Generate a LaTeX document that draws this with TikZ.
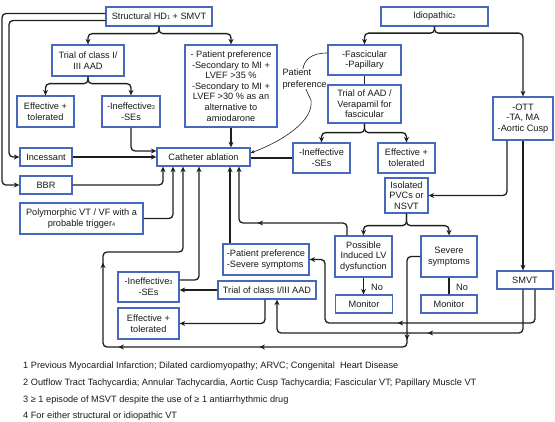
\documentclass[tikz,border=0pt]{standalone}
\usepackage{fontspec}
\setmainfont{Liberation Sans}
\usetikzlibrary{arrows.meta,decorations.markings}
\definecolor{boxblue}{RGB}{70,105,190}
\definecolor{linec}{RGB}{30,30,30}
\newcommand\sm[1]{{\fontsize{5.5}{6}\selectfont #1}}
\newcommand\mybox[6]{\node[box,minimum width=#4pt,minimum height=#5pt] (#1) at (#2,#3) {#6};}
\begin{document}
\begin{tikzpicture}[x=1pt,y=-1pt,
  >={Stealth[length=5.5pt,width=5pt]},
  every node/.style={font=\fontsize{9.2}{10.6}\selectfont, text=black!90},
  box/.style={draw=boxblue,line width=1.3pt,fill=white,align=center,inner sep=1pt},
  conn/.style={draw=linec,line width=1.3pt,rounded corners=4pt},
  arr/.style={conn,->},
  mk/.style={postaction={decorate,decoration={markings,mark=at position #1 with {\arrow{>}}}}},
  fn/.style={anchor=west,inner sep=0pt}
]
\useasboundingbox (0,0) rectangle (555,422);

% boxes
\mybox{sh}{159}{16.5}{106}{19}{Structural HD\sm{1} + SMVT}
\mybox{id}{434.5}{16.5}{107}{19}{Idiopathic\sm{2}}
\mybox{tra}{88}{60.5}{72}{31}{Trial of class I/\\III AAD}
\mybox{ppa}{231}{86}{92}{82}{- Patient preference\\-Secondary to MI +\\LVEF >35 \%\\-Secondary to MI +\\LVEF >30 \% as an\\alternative to\\amiodarone}
\mybox{efa}{45.5}{111.5}{57}{31}{Effective +\\tolerated}
\mybox{ina}{131}{111.5}{58}{31}{-Ineffective\sm{3}\\-SEs}
\mybox{fa}{364.5}{60}{73}{30}{-Fascicular\\-Papillary}
\mybox{tv}{364.5}{104}{73}{38}{Trial of AAD /\\Verapamil for\\fascicular}
\mybox{ott}{523}{118.5}{60}{43}{-OTT\\-TA, MA\\-Aortic Cusp}
\mybox{inc}{46}{157}{52}{18}{Incessant}
\mybox{bbr}{46}{185}{52}{18}{BBR}
\mybox{cat}{203.5}{157}{93}{18}{Catheter ablation}
\mybox{inb}{321.5}{158}{57}{30}{-Ineffective\\-SEs}
\mybox{efb}{406.5}{158}{57}{30}{Effective +\\tolerated}
\mybox{pvc}{406.5}{195.5}{43}{35}{Isolated\\PVCs or\\NSVT}
\mybox{poly}{81.5}{218.5}{123}{31}{Polymorphic VT / VF with a\\probable trigger\sm{4}}
\mybox{plv}{363.5}{256.5}{57}{41}{Possible\\Induced LV\\dysfunction}
\mybox{sev}{449}{256.5}{56}{41}{Severe\\symptoms}
\node[box,align=left,minimum width=86pt,minimum height=31pt] (ppb) at (266,259.5) {-Patient preference\\-Severe symptoms};
\mybox{inc3}{148.5}{287}{61}{30}{-Ineffective\sm{3}\\-SEs}
\mybox{tr2}{267}{290}{98}{18}{Trial of class I/III AAD}
\mybox{ef3}{148.5}{323.5}{61}{31}{Effective +\\tolerated}
\mybox{mo1}{364}{304}{57}{18}{Monitor}
\mybox{mo2}{449}{304}{56}{18}{Monitor}
\mybox{smvt}{525}{280}{56}{18}{SMVT}
\node (no1) at (377,287) {No};
\node (no2) at (462,287) {No};

% connectors: structural side
\draw[arr] (sh.south) -- ++(0,7) -| (tra.north);
\draw[arr] (sh.south) -- ++(0,7) -| (ppa.north);
\draw[arr] (sh.west |- 0,13.5) -| (2,185) -- (bbr.west);
\draw[arr] (sh.west |- 0,20.5) -| (9,157) -- (inc.west);
\draw[arr] (tra.south) -- ++(0,7) -| (efa.north);
\draw[arr] (tra.south) -- ++(0,7) -| (ina.north);
\draw[arr] (ina.south) |- (cat.west |- 0,151);
\draw[arr] (inc.east) -- (cat.west);
\draw[arr] (ppa.south) -- (ppa.south |- cat.north);
\draw[arr] (bbr.east) -| (cat.south -| 163,0);
\draw[arr] (poly.east) -| (cat.south -| 173,0);
\draw[arr] (inc3.east |- 0,280) -| (cat.south -| 199,0);
\draw[arr] (ppb.north -| 230,0) -- (cat.south -| 230,0);
\draw[arr, mk=100pt] (plv.north -| 347,0) |- (239,223) -- (cat.south -| 239,0);
\draw[arr, postaction={decorate,decoration={markings,
  mark=at position 95pt with {\arrow{>}},
  mark=at position 248pt with {\arrow{>}},
  mark=at position 389pt with {\arrow{>}},
  mark=at position 487pt with {\arrow{>}}}}]
  (sev.west) -| (407,347) -| (103,252) -| (cat.south -| 183,0);

% idiopathic side
\draw[arr] (id.south) -- ++(0,6.5) -| (fa.north);
\draw[arr] (id.south) -- ++(0,6.5) -| (ott.north);
\draw[conn] (fa.south) -- (tv.north);
\draw[arr] (tv.south) -- ++(0,9) -| (inb.north);
\draw[arr] (tv.south) -- ++(0,9) -| (efb.north);
\draw[conn] (inb.west) -- (inb.west -| cat.east);
\draw[arr] (ott.south -| 507,0) |- (pvc.east);
\draw[arr] (ott.south) -- (ott.south |- smvt.north);
\draw[arr] (pvc.south) -- ++(0,12) -| (plv.north);
\draw[arr] (pvc.south) -- ++(0,12) -| (sev.north);
\draw[arr] (plv.south) -- (plv.south |- mo1.north);
\draw[conn] (sev.south) -- (mo2.north);
\draw[arr, mk=169pt] (smvt.south -| 535,0) |- (325,323) |- (ppb.east);
\draw[arr, mk=137pt] (smvt.south -| 523,0) |- (277,333) -- (tr2.south -| 277,0);
\draw[arr] (tr2.west) -- (tr2.west -| inc3.east);
\draw[arr] (tr2.south -| 265,0) |- (ef3.east);

% patient preference curve
\draw[linec, line width=0.6pt, -{Stealth[length=4pt,width=3.5pt]}] (fa.west |- 0,53) .. controls (295,53) and (300,80) .. (311,100) .. controls (314,120) and (285,140) .. (cat.east |- 0,153);
\node[fill=white, inner sep=0.3pt, align=left, anchor=west] (pl) at (282,79) {Patient\\[1pt]preference};

% footnotes
\node[fn] (fn1) at (23,366) {1 Previous Myocardial Infarction; Dilated cardiomyopathy; ARVC; Congenital\ \ Heart Disease};
\node[fn] (fn2) at (23,383) {2 Outflow Tract Tachycardia; Annular Tachycardia, Aortic Cusp Tachycardia; Fascicular VT; Papillary Muscle VT};
\node[fn] (fn3) at (23,400) {3 ≥ 1 episode of MSVT despite the use of ≥ 1 antiarrhythmic drug};
\node[fn] (fn4) at (23,416) {4 For either structural or idiopathic VT};
\end{tikzpicture}
\end{document}
